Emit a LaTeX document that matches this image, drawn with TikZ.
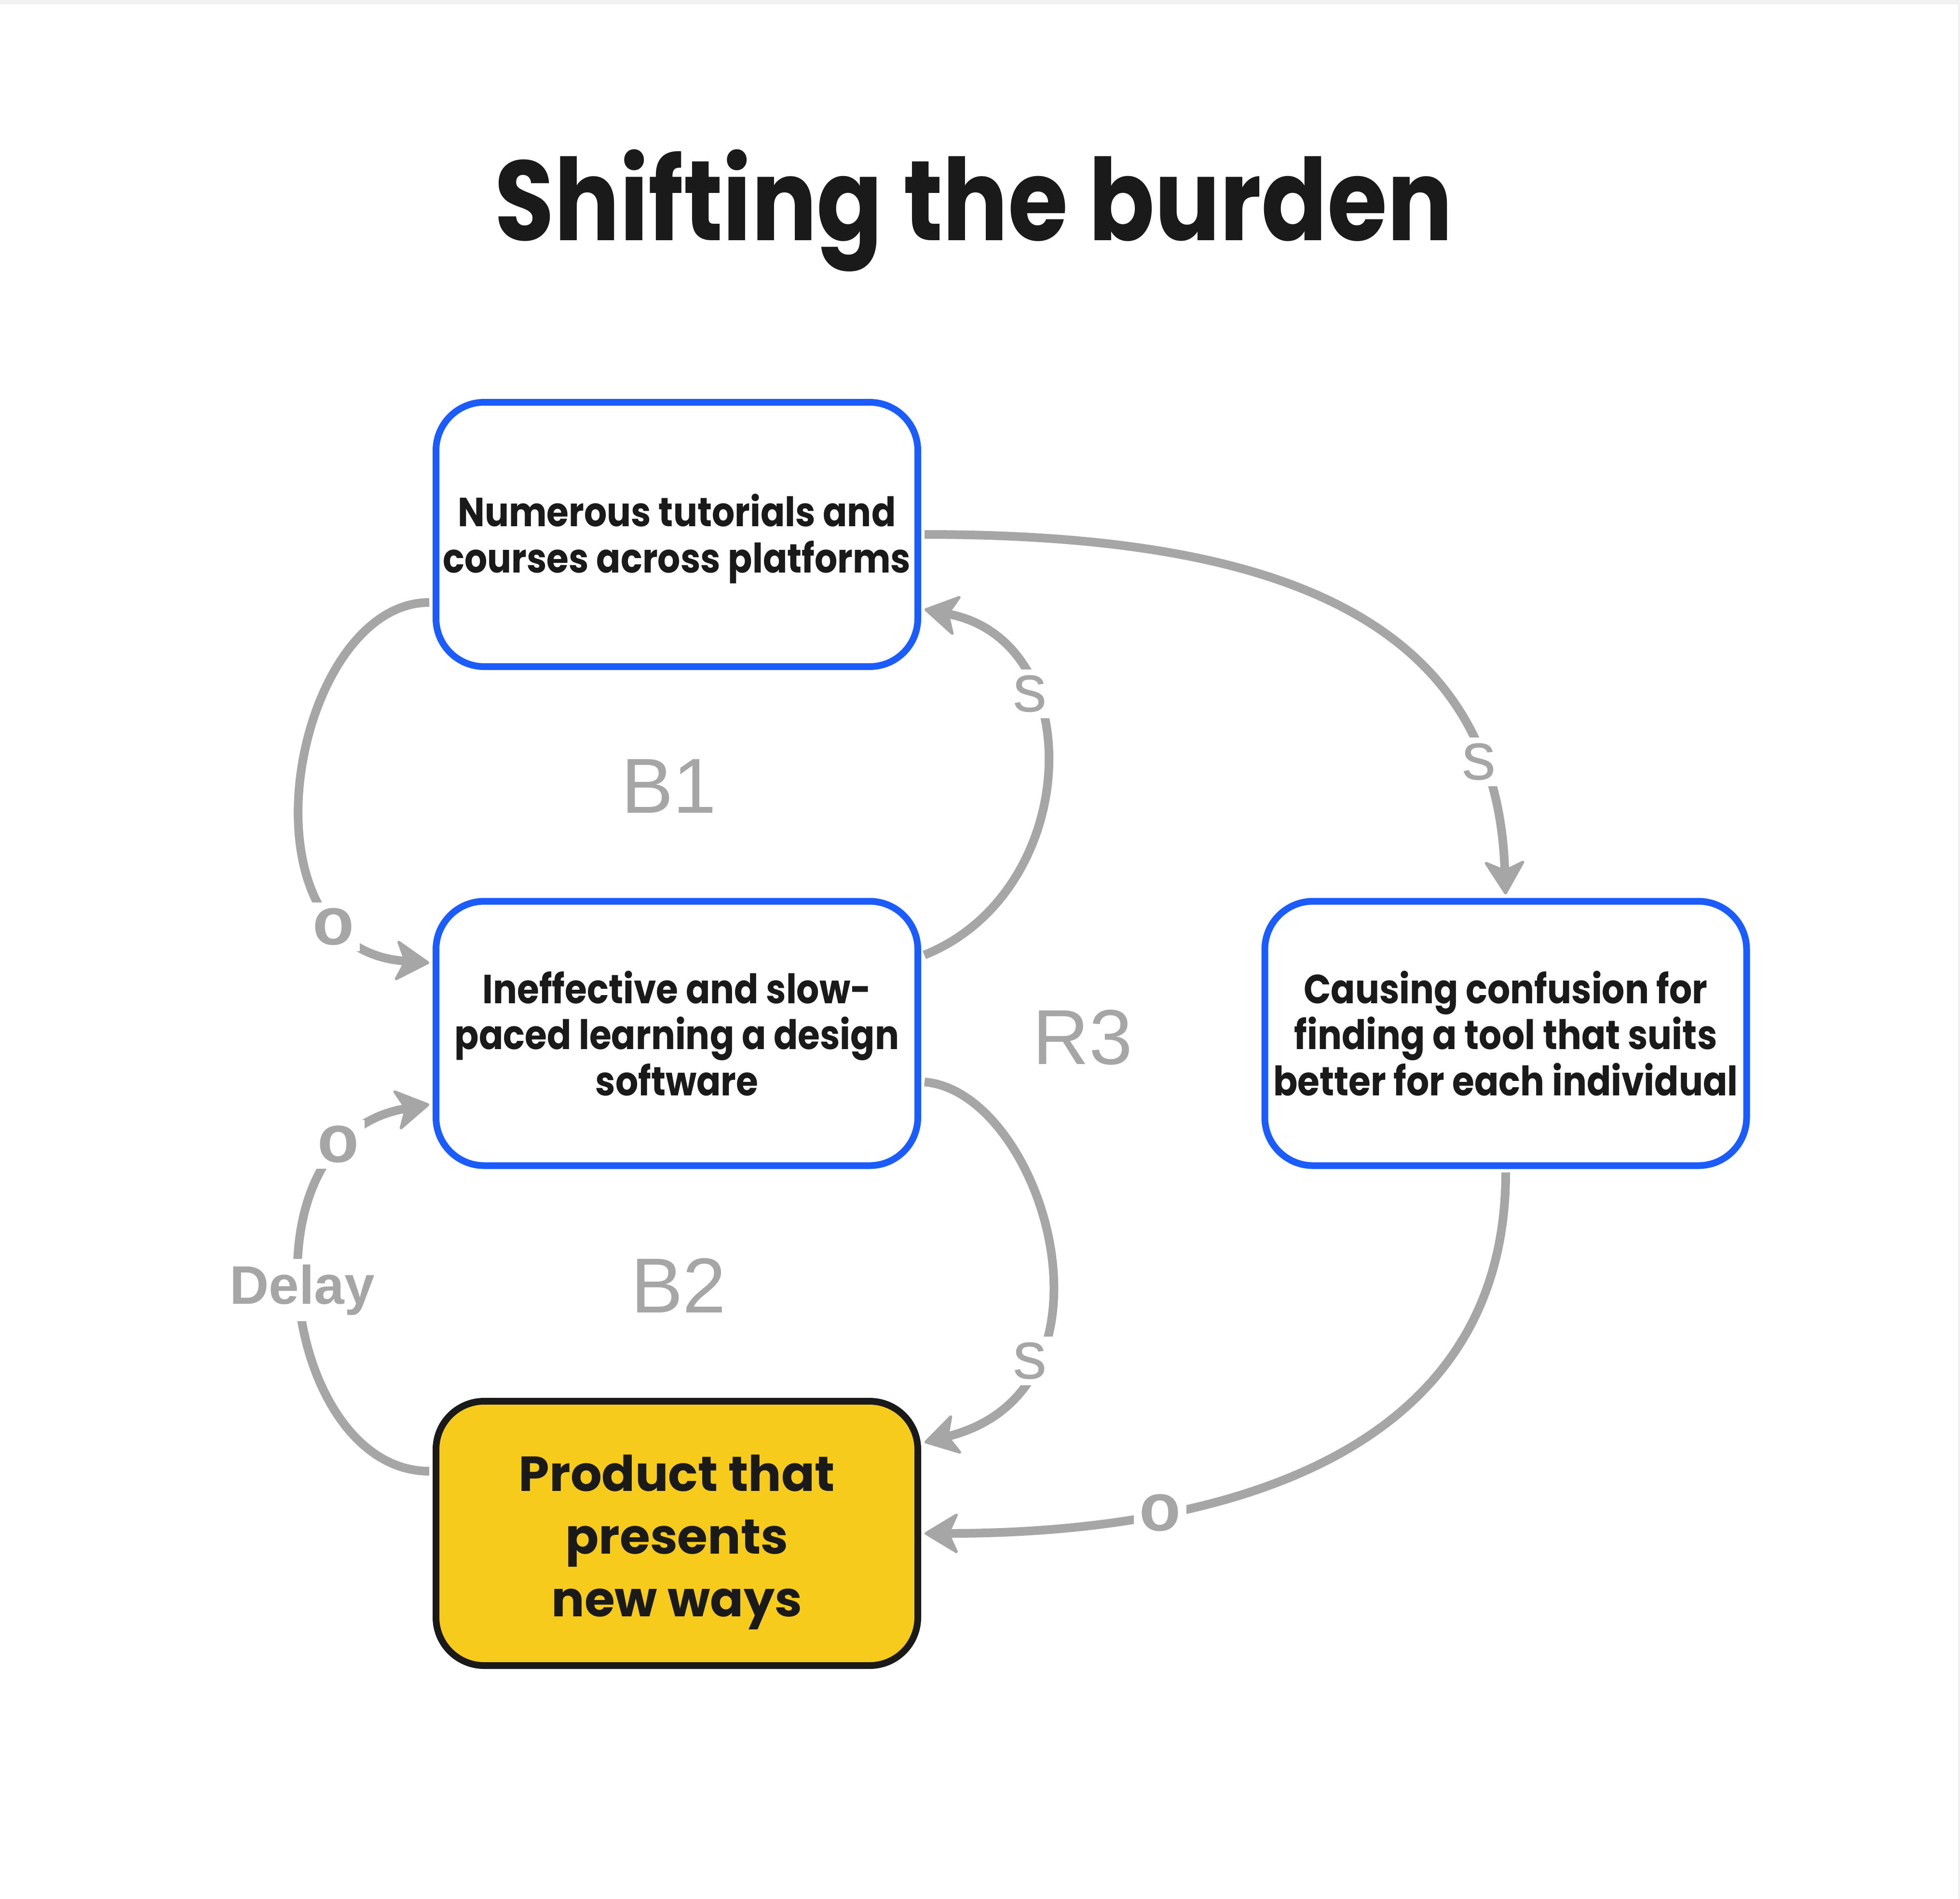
\documentclass[tikz,border=0pt]{standalone}
\usepackage{fontspec}
\setmainfont{Poppins}
\newfontfamily\labelfont{Liberation Sans}
\newfontfamily\boxfont[FakeStretch=0.88]{Poppins}
\newfontfamily\titlefont[FakeStretch=0.855]{Poppins}
\usetikzlibrary{arrows.meta}

\definecolor{loopblue}{HTML}{1A5CFF}
\definecolor{prodyellow}{HTML}{F6CB1B}
\definecolor{linkgray}{HTML}{A6A6A6}
\definecolor{inkblack}{HTML}{1A1A1A}
\definecolor{stripgray}{HTML}{F1F1F1}

% taller first line, to push a box text down a little
\newcommand{\topgap}[1]{\rule{0pt}{#1}}

\begin{document}
\begin{tikzpicture}[
    box/.style={draw=loopblue, line width=0.14cm, rounded corners=1cm, fill=white,
        minimum width=9.99cm, minimum height=5.48cm, align=center, text=inkblack,
        font=\boxfont\bfseries\fontsize{24pt}{27.3pt}\selectfont},
    prodbox/.style={box, draw=inkblack, fill=prodyellow,
        font=\bfseries\fontsize{29pt}{37pt}\selectfont},
    causal/.style={draw=linkgray, line width=0.18cm,
        -{Stealth[length=0.75cm, width=0.9cm, inset=0.2cm, round, line width=0.06cm]},
        shorten >=0.07cm, shorten <=0.07cm},
    polarity/.style={fill=white, text=linkgray, inner sep=0.12cm,
        font=\labelfont\fontsize{40pt}{40pt}\selectfont},
    minus/.style={polarity, font=\labelfont\bfseries\fontsize{40pt}{40pt}\selectfont},
    loopname/.style={text=linkgray, font=\labelfont\fontsize{46pt}{46pt}\selectfont}
]
    \useasboundingbox (0,0) rectangle (40.64,-39.36);
    \fill[white] (0,0) rectangle (40.64,-39.36);
    \fill[stripgray] (0,0) rectangle (40.64,-0.09);
    \fill[stripgray] (40.60,-0.09) rectangle (40.64,-39.36);

    % Title
    \node[anchor=base, text=inkblack, font=\titlefont\bfseries\fontsize{67pt}{67pt}\selectfont]
        (title) at (20.19,-4.98) {Shifting the burden};

    % Boxes
    \node[box] (nA) at (14.035,-11.08) {\topgap{0.85cm}Numerous tutorials and\\courses across platforms};
    \node[box] (nB) at (14.035,-21.425) {Ineffective and slow-\\paced learning a design\\software};
    \node[prodbox] (nC) at (14.035,-31.79) {\topgap{1.12cm}Product that\\presents\\new ways};
    \node[box] (nD) at (31.22,-21.425) {Causing confusion for\\finding a tool that suits\\better for each individual};

    % Loop names
    \node[loopname] (b1) at (13.87,-16.30) {B1};
    \node[loopname] (b2) at (14.07,-26.65) {B2};
    \node[loopname] (r3) at (22.45,-21.51) {R3};

    % Links
    \draw[causal] ([yshift=-1.41cm]nA.west) .. controls +(-2.9,0) and +(-4.2,0.3) ..
        node[minus, pos=0.82, xshift=-0.3cm] {o} ([yshift=1.46cm]nB.west);
    \draw[causal] ([yshift=1.6cm]nB.east) .. controls +(3.32,1.33) and +(3.52,-0.68) ..
        node[polarity, pos=0.68] {s} ([yshift=-1.54cm]nA.east);
    \draw[causal] (nA.east) .. controls +(7,0) and +(-0.2,6.0) ..
        node[polarity, pos=0.82] {s} (nD.north);
    \draw[causal] ([yshift=-1.0cm]nB.east) .. controls +(2.52,-0.21) and +(4.4,1.12) ..
        node[polarity, pos=0.74] {s} ([yshift=1.87cm]nC.east);
    \draw[causal] (nD.south) .. controls +(0,-6.4) and +(5.3,0) ..
        node[minus, pos=0.7] {o} (nC.east);
    \draw[causal] ([yshift=1.29cm]nC.west) .. controls +(-3.09,0) and +(-4.09,-0.71) ..
        node[polarity, pos=0.52, font=\labelfont\bfseries\fontsize{32pt}{32pt}\selectfont] {Delay}
        node[minus, pos=0.83, xshift=-0.3cm] {o} ([yshift=-1.46cm]nB.west);
\end{tikzpicture}
\end{document}
